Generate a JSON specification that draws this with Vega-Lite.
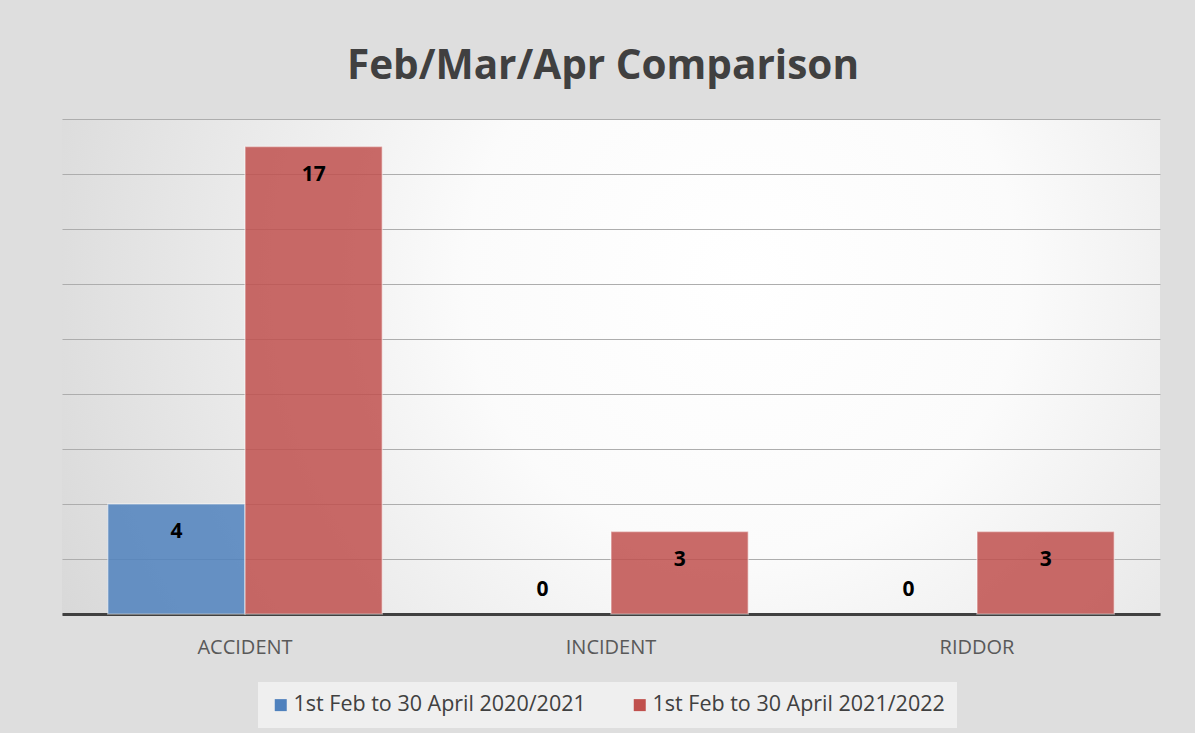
{
  "$schema": "https://vega.github.io/schema/vega-lite/v6.json",
  "width": 1098,
  "height": 495,
  "autosize": {"type": "none"},
  "padding": {"left": 62, "top": 119, "right": 35, "bottom": 119},
  "background": "#dedede",
  "title": {
    "text": "Feb/Mar/Apr Comparison",
    "font": "Open Sans",
    "fontSize": 40.5,
    "fontWeight": "bold",
    "color": "#404040",
    "anchor": "middle",
    "baseline": "alphabetic",
    "offset": 0,
    "dx": -8
  },
  "config": {
    "view": {
      "stroke": null,
      "fill": {
        "gradient": "radial",
        "x1": 0.62, "y1": 0.42, "r1": 0,
        "x2": 0.62, "y2": 0.42, "r2": 0.72,
        "stops": [
          {"offset": 0, "color": "#ffffff"},
          {"offset": 0.35, "color": "#fbfbfb"},
          {"offset": 1, "color": "#d6d6d6"}
        ]
      }
    }
  },
  "data": {
    "values": [
      {"category": "ACCIDENT", "series": "1st Feb to 30 April 2020/2021", "value": 4},
      {"category": "ACCIDENT", "series": "1st Feb to 30 April 2021/2022", "value": 17},
      {"category": "INCIDENT", "series": "1st Feb to 30 April 2020/2021", "value": 0},
      {"category": "INCIDENT", "series": "1st Feb to 30 April 2021/2022", "value": 3},
      {"category": "RIDDOR", "series": "1st Feb to 30 April 2020/2021", "value": 0},
      {"category": "RIDDOR", "series": "1st Feb to 30 April 2021/2022", "value": 3}
    ]
  },
  "encoding": {
    "x": {
      "field": "category",
      "type": "nominal",
      "sort": ["ACCIDENT", "INCIDENT", "RIDDOR"],
      "scale": {"paddingInner": 0.25, "paddingOuter": 0.125},
      "axis": {
        "title": null,
        "labelAngle": 0,
        "domain": true,
        "domainColor": "#404040",
        "domainWidth": 3,
        "ticks": false,
        "tickSize": 0,
        "grid": false,
        "labelFont": "Open Sans",
        "labelFontSize": 20,
        "labelColor": "#595959",
        "labelBaseline": "alphabetic",
        "labelPadding": 39
      }
    },
    "xOffset": {
      "field": "series",
      "type": "nominal",
      "sort": ["1st Feb to 30 April 2020/2021", "1st Feb to 30 April 2021/2022"],
      "scale": {"paddingInner": 0, "paddingOuter": 0}
    },
    "y": {
      "field": "value",
      "type": "quantitative",
      "scale": {"domain": [0, 18], "nice": false},
      "axis": {
        "title": null,
        "values": [0, 2, 4, 6, 8, 10, 12, 14, 16, 18],
        "labels": false,
        "ticks": false,
        "tickSize": 0,
        "domain": false,
        "grid": true,
        "gridColor": "#adadad",
        "gridWidth": 1
      }
    }
  },
  "layer": [
    {
      "transform": [{"filter": "datum.value > 0"}],
      "mark": {
        "type": "bar",
        "fillOpacity": 0.85,
        "stroke": "#ffffff",
        "strokeOpacity": 0.45,
        "strokeWidth": 1.5
      },
      "encoding": {
        "color": {
          "field": "series",
          "type": "nominal",
          "scale": {"domain": ["1st Feb to 30 April 2020/2021", "1st Feb to 30 April 2021/2022"], "range": ["#4f81bd", "#c0504d"]},
          "legend": {
            "title": null,
            "orient": "none",
            "legendX": 196,
            "legendY": 563,
            "direction": "horizontal",
            "padding": 12,
            "fillColor": "#efefef",
            "symbolType": "square",
            "symbolSize": 144,
            "symbolStrokeWidth": 0,
            "labelFont": "Open Sans",
            "labelFontSize": 21.5,
            "labelColor": "#404040",
            "labelOffset": 2,
            "columnPadding": 43,
            "labelLimit": 400
          }
        }
      }
    },
    {
      "transform": [{"filter": "datum.value > 0"}],
      "mark": {
        "type": "text",
        "dy": 28,
        "baseline": "middle",
        "font": "Open Sans",
        "fontSize": 21,
        "fontWeight": "bold",
        "color": "#000000"
      },
      "encoding": {"text": {"field": "value", "type": "quantitative"}}
    },
    {
      "transform": [{"filter": "datum.value == 0"}],
      "mark": {
        "type": "text",
        "dy": -24,
        "baseline": "middle",
        "font": "Open Sans",
        "fontSize": 21,
        "fontWeight": "bold",
        "color": "#000000"
      },
      "encoding": {"text": {"field": "value", "type": "quantitative"}}
    }
  ]
}
